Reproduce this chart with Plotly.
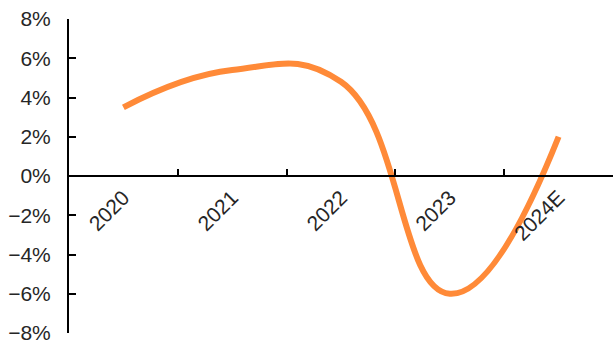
import plotly.graph_objects as go

# Annual growth rate, percent
years = ["2020", "2021", "2022", "2023", "2024E"]
growth = [3.5, 5.4, 4.8, -6.0, 2.0]

y_ticks = [-8, -6, -4, -2, 0, 2, 4, 6, 8]

fig = go.Figure()
fig.add_trace(go.Scatter(
    x=years,
    y=growth,
    mode="lines",
    line=dict(color="#FF8A38", width=6, shape="spline", smoothing=1.3),
    hoverinfo="skip",
))

font = dict(family="Liberation Sans, Arial, sans-serif", size=21, color="#262626")

fig.update_layout(
    width=614,
    height=345,
    margin=dict(l=69, r=1, t=19, b=12),
    paper_bgcolor="white",
    plot_bgcolor="white",
    showlegend=False,
    font=font,
    xaxis=dict(
        type="category",
        range=[-0.5, 4.5],
        anchor="free",
        position=0.5,
        showline=True,
        linecolor="black",
        linewidth=2,
        ticks="inside",
        tickson="boundaries",
        ticklen=6,
        tickwidth=2,
        tickcolor="black",
        tickangle=-45,
        showgrid=False,
        zeroline=False,
        tickfont=font,
    ),
    yaxis=dict(
        range=[-8, 8],
        tickvals=y_ticks,
        ticktext=[f"{v}%".replace("-", "\u2212") for v in y_ticks],
        showline=True,
        linecolor="black",
        linewidth=2,
        ticks="inside",
        ticklen=7,
        tickwidth=2,
        tickcolor="black",
        showgrid=False,
        zeroline=False,
        tickfont=font,
        ticklabelstandoff=12,
    ),
)

fig.write_html("out.html")
